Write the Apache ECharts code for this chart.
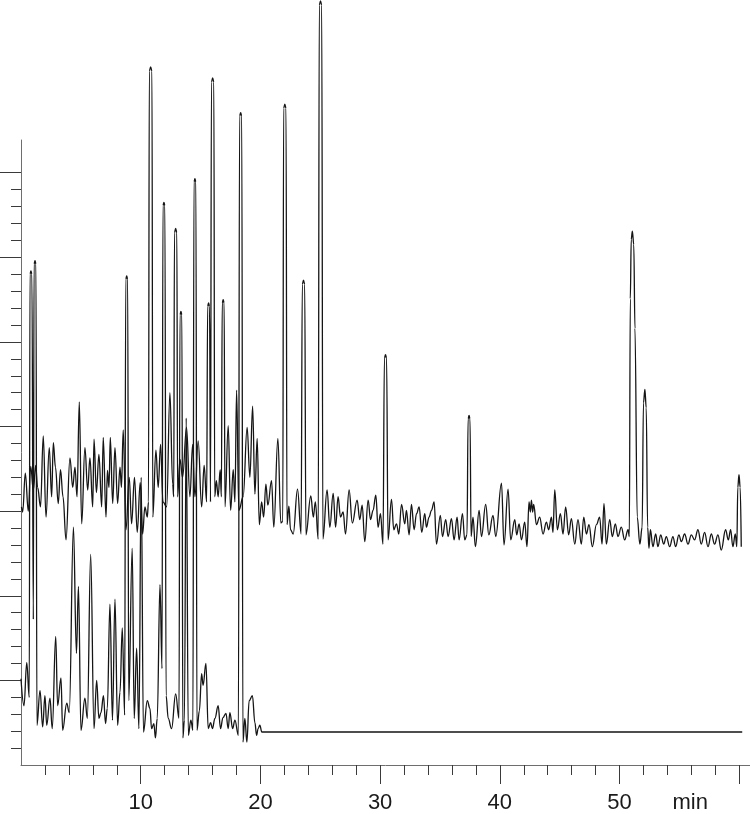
<!DOCTYPE html>
<html>
<head>
<meta charset="utf-8">
<script src="https://cdn.jsdelivr.net/npm/echarts@6/dist/echarts.min.js"></script>
<style>html,body{margin:0;padding:0;background:#fff;}#chart{width:750px;height:814px;}</style>
</head>
<body>
<div id="chart"></div>
<script>
// time (min), signal
const upperTrace = [
[0.04,30.5],[0.14,29.9],[0.36,34.5],[0.61,30.0],[0.81,35.3],[1.03,32.5],[1.23,35.4],[1.39,32.8],[1.63,30.5],[1.86,38.9],
[2.09,29.3],[2.36,37.5],[2.56,31.7],[2.70,38.1],[2.88,35.2],[3.11,30.9],[3.30,34.9],[3.51,31.7],[3.76,26.6],[4.09,36.3],
[4.32,32.8],[4.51,35.2],[4.68,31.7],[4.87,42.9],[5.07,28.5],[5.34,37.5],[5.57,32.5],[5.76,36.3],[5.99,30.5],[6.10,38.5],
[6.30,32.2],[6.51,36.7],[6.74,30.5],[6.87,38.7],[7.10,29.3],[7.22,34.8],[7.35,32.8],[7.46,38.7],[7.66,30.9],[7.85,37.5],
[8.07,30.9],[8.27,35.2],[8.39,32.8],[8.54,39.6],[8.77,27.8],[9.04,34.0],[9.24,28.5],[9.48,34.0],[9.71,27.5],[9.96,33.4],
[10.16,27.3],[10.35,30.5],[10.55,29.3],[10.65,31.1],[10.72,82.0],[10.83,82.5],[10.94,82.0],[11.01,29.3],[11.27,37.2],[11.46,32.8],[11.66,37.9],[11.86,31.1],
[12.17,30.5],[12.44,44.0],[12.67,33.2],[12.76,31.7],[12.82,62.9],[12.92,63.4],[13.02,62.9],[13.08,31.7],[13.28,36.1],[13.50,34.0],[13.83,39.9],[14.11,31.7],
[14.34,37.9],[14.53,31.7],[14.80,38.3],[15.09,30.5],[15.30,35.4],[15.51,31.1],[15.59,54.2],[15.67,54.6],[15.75,54.2],[15.83,31.1],[15.91,80.7],[16.01,81.2],[16.11,80.7],[16.18,31.7],
[16.32,33.6],[16.47,31.7],[16.64,34.9],[16.74,31.7],[16.81,54.6],[16.89,55.0],[16.97,54.6],[17.04,30.5],[17.31,40.1],[17.51,30.1],[17.73,34.9],[17.87,31.1],
[18.01,44.3],[18.20,30.1],[18.56,31.7],[18.89,39.9],[19.12,34.0],[19.35,42.4],[19.54,32.0],[19.73,38.6],[19.91,28.4],[20.10,31.1],
[20.27,29.3],[20.46,33.2],[20.62,30.7],[20.93,33.6],[21.12,28.1],[21.46,38.6],[21.71,28.6],[21.87,28.8],[21.94,77.6],[22.04,78.1],[22.14,77.6],[22.22,28.4],
[22.38,30.6],[22.52,27.8],[22.74,27.3],[23.10,32.6],[23.40,27.3],[23.50,56.8],[23.60,57.3],[23.70,56.8],[23.80,27.2],[24.21,31.8],[24.42,29.3],[24.59,31.1],[24.83,26.7],
[24.92,89.8],[25.02,90.3],[25.12,89.8],[25.22,26.7],[25.57,32.5],[25.80,28.1],[26.08,32.1],[26.28,28.1],[26.49,31.7],[26.69,29.3],[26.91,29.9],[27.11,27.3],
[27.41,32.5],[27.68,28.6],[28.08,31.3],[28.30,29.0],[28.50,30.7],[28.72,26.4],[29.00,31.3],[29.20,29.0],[29.41,30.1],[29.64,31.9],
[29.83,28.1],[30.03,29.7],[30.24,26.1],[30.36,48.1],[30.45,48.5],[30.54,48.1],[30.66,26.6],[30.95,31.4],[31.14,27.8],[31.37,28.5],[31.56,27.3],[31.79,30.8],
[32.06,28.5],[32.20,30.1],[32.42,27.2],[32.62,30.8],[32.84,27.8],[33.04,29.7],[33.26,30.5],[33.48,27.5],[33.73,29.7],[33.87,28.1],
[34.09,29.3],[34.29,30.1],[34.51,31.1],[34.71,26.1],[35.03,29.5],[35.21,27.0],[35.48,29.0],[35.68,27.0],[35.96,29.1],[36.18,26.6],
[36.43,29.3],[36.60,26.6],[36.88,29.7],[37.07,26.6],[37.26,27.2],[37.35,40.9],[37.43,41.3],[37.51,40.9],[37.60,27.0],[37.76,29.3],[37.96,25.8],[38.27,30.1],
[38.47,27.0],[38.82,30.8],[39.08,27.2],[39.43,29.5],[39.66,27.0],[40.14,33.3],[40.35,26.0],[40.69,32.6],[40.91,26.6],[41.25,29.0],
[41.41,27.2],[41.61,28.5],[41.81,26.6],[42.08,28.7],[42.27,25.8],[42.44,31.1],[42.55,29.9],[42.64,31.3],[42.74,29.9],[42.83,30.8],
[43.06,28.4],[43.33,29.3],[43.61,27.3],[43.89,28.7],[44.08,27.8],[44.31,29.3],[44.44,27.5],[44.59,32.5],[44.81,27.8],[45.06,29.7],
[45.28,27.3],[45.50,30.5],[45.75,27.2],[45.98,29.1],[46.26,26.1],[46.53,29.0],[46.81,26.1],[47.01,29.3],[47.23,27.3],[47.45,28.4],
[47.73,25.8],[48.07,28.4],[48.34,29.3],[48.54,26.1],[48.70,30.9],[48.90,26.1],[49.18,29.0],[49.40,27.0],[49.65,28.5],[49.87,27.0],
[50.15,28.1],[50.43,26.6],[50.71,27.8],[50.82,27.0],[50.90,55.1],[50.98,62.1],[51.07,63.1],[51.19,61.5],[51.29,51.6],[51.48,29.3],
[51.70,26.1],[51.89,28.1],[52.00,42.8],[52.12,44.4],[52.23,42.2],[52.35,28.1],[52.46,25.6],[52.58,27.8],[52.79,25.8],[53.02,27.3],
[53.21,25.8],[53.44,27.2],[53.69,26.1],[53.91,27.0],[54.19,25.8],[54.46,27.0],[54.69,25.8],[54.96,27.2],[55.16,26.4],[55.44,27.3],
[55.72,26.1],[56.00,27.2],[56.27,26.6],[56.55,27.8],[56.83,26.1],[57.11,27.5],[57.39,25.8],[57.67,27.3],[57.94,26.1],[58.22,27.2],
[58.50,25.4],[58.86,27.8],[59.09,26.6],[59.28,27.8],[59.47,25.8],[59.67,27.3],[59.80,25.8],[59.88,32.8],[59.98,34.3],[60.08,32.8],
[60.17,25.8]
];
const lowerTrace = [
[0.00,10.2],[0.25,7.0],[0.48,12.1],[0.69,8.0],[0.75,58.0],[0.83,58.4],[0.91,58.0],[1.03,17.2],[1.09,59.2],[1.17,59.6],[1.25,59.2],[1.33,4.7],[1.59,8.8],[1.81,4.5],
[2.00,8.2],[2.15,4.7],[2.42,7.9],[2.61,4.3],[2.90,15.2],[3.06,7.0],[3.34,10.3],[3.48,4.1],[3.82,7.3],[4.03,6.2],
[4.38,28.1],[4.63,13.2],[4.80,21.1],[5.01,4.1],[5.34,7.9],[5.54,5.5],[5.82,24.9],[6.10,4.3],[6.32,10.0],[6.51,5.5],
[6.68,6.2],[6.89,8.2],[7.06,4.9],[7.21,6.7],[7.43,19.0],[7.64,5.3],[7.85,19.6],[8.07,4.7],[8.27,8.6],[8.46,16.2],
[8.66,5.9],[8.75,57.4],[8.83,57.8],[8.91,57.4],[9.00,7.6],[9.29,25.6],[9.46,5.5],[9.66,13.8],[9.85,4.3],[10.04,34.0],[10.23,3.9],[10.55,7.6],
[10.77,6.7],[10.91,4.3],[11.10,4.9],[11.23,3.2],[11.38,5.5],[11.61,21.3],[11.78,11.4],[11.86,66.1],[11.94,66.5],[12.02,66.1],[12.12,8.2],[12.30,5.5],
[12.58,4.3],[12.92,8.4],[13.20,5.5],[13.28,53.2],[13.36,53.6],[13.44,53.2],[13.52,3.2],[13.65,5.3],[13.80,41.0],[13.98,3.5],[14.19,5.3],[14.36,4.1],
[14.45,68.9],[14.53,69.3],[14.61,68.9],[14.70,4.1],[14.90,6.4],[15.09,10.8],[15.21,9.4],[15.45,12.0],[15.64,4.3],[15.84,5.0],[15.99,4.3],[16.20,5.5],
[16.47,7.0],[16.67,4.3],[16.87,5.6],[17.12,6.1],[17.31,4.3],[17.45,6.2],[17.68,4.3],[17.87,5.3],[18.16,3.5],[18.26,76.7],[18.35,77.1],[18.44,76.7],
[18.54,2.7],[18.70,5.5],[18.87,2.7],[19.06,7.6],[19.33,8.2],[19.54,5.0],[19.68,3.5],[19.81,4.3],[19.95,4.7],[20.12,3.9],
[60.25,3.9]
];
const xMajorTicks = [10, 20, 30, 40, 50, 60];
const xMinorTicks = [2,4,6,8,12,14,16,18,22,24,26,28,32,34,36,38,42,44,46,48,52,54,56,58];
const xLabelValues = [10, 20, 30, 40, 50, 55.9];
const xUnitLabel = 'min';
const yMajorTicks = [10, 20, 30, 40, 50, 60, 70];
const yMinorTicks = [2,4,6,8,12,14,16,18,22,24,26,28,32,34,36,38,42,44,46,48,52,54,56,58,62,64,66,68];

const X_MAX = 60.9, Y_MAX = 73.86;
const chart = echarts.init(document.getElementById('chart'), null, {renderer: 'canvas'});
const axisLineStyle = {color: '#6e6e6e', width: 1};
const tickStyle = {color: '#3a3a3a', width: 1};
const baseX = {type: 'value', min: 0, max: X_MAX, position: 'bottom', splitLine: {show: false}};
const baseY = {type: 'value', min: 0, max: Y_MAX, position: 'left', splitLine: {show: false}};
chart.setOption({
  animation: false,
  backgroundColor: '#ffffff',
  grid: {left: 21, right: 0, top: 140, bottom: 44, containLabel: false},
  xAxis: [
    Object.assign({}, baseX, {
      axisLine: {show: true, lineStyle: axisLineStyle},
      axisTick: {show: true, length: 19, customValues: xMajorTicks, lineStyle: tickStyle},
      axisLabel: {show: true, customValues: xLabelValues, margin: 27, color: '#1a1a1a',
        fontFamily: 'Liberation Sans, Arial, sans-serif', fontSize: 22,
        formatter: v => (v > 55 && v < 57) ? xUnitLabel : String(v)}
    }),
    Object.assign({}, baseX, {
      axisLine: {show: false},
      axisTick: {show: true, length: 10, customValues: xMinorTicks, lineStyle: tickStyle},
      axisLabel: {show: false}
    })
  ],
  yAxis: [
    Object.assign({}, baseY, {
      axisLine: {show: true, lineStyle: axisLineStyle},
      axisTick: {show: true, length: 21, customValues: yMajorTicks, lineStyle: tickStyle},
      axisLabel: {show: false}
    }),
    Object.assign({}, baseY, {
      axisLine: {show: false},
      axisTick: {show: true, length: 10, customValues: yMinorTicks, lineStyle: tickStyle},
      axisLabel: {show: false}
    })
  ],
  series: [
    {type: 'line', data: lowerTrace, xAxisIndex: 0, yAxisIndex: 0, showSymbol: false, clip: false,
      smooth: 0.4, smoothMonotone: 'x', lineStyle: {color: '#151515', width: 1.3}},
    {type: 'line', data: upperTrace, xAxisIndex: 0, yAxisIndex: 0, showSymbol: false, clip: false,
      smooth: 0.4, smoothMonotone: 'x', lineStyle: {color: '#151515', width: 1.3}}
  ]
});
</script>
</body>
</html>
